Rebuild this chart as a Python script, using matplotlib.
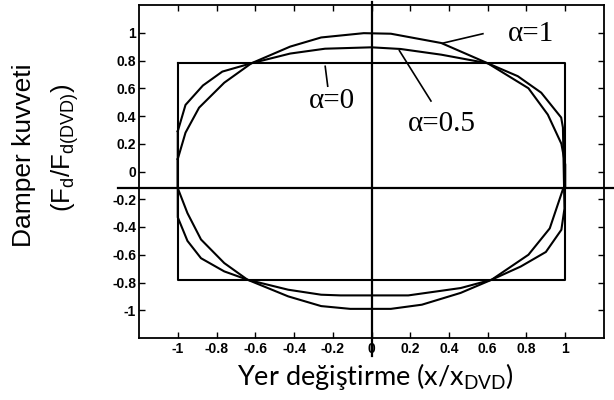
import matplotlib
matplotlib.use("Agg")
import matplotlib.pyplot as plt

# Damper force-displacement loops (normalised), alpha = 1, 0.5 and 0
# alpha = 1 loop: upper branch (left to right) then lower branch (right to left)
a1_x = [-1.0, -0.96, -0.89, -0.76, -0.62, -0.42, -0.26, -0.04, 0.10, 0.36, 0.60,
        0.81, 0.91, 0.98, 1.0, 1.0,
        0.99, 0.92, 0.81, 0.62, 0.46, 0.26, 0.10, -0.11, -0.26, -0.43, -0.64,
        -0.76, -0.88, -0.95, -1.0, -1.0]
a1_y = [0.09, 0.28, 0.46, 0.64, 0.78, 0.90, 0.966, 0.997, 0.993, 0.926, 0.78,
        0.60, 0.41, 0.20, 0.05, -0.12,
        -0.12, -0.41, -0.60, -0.78, -0.875, -0.96, -0.99, -0.99, -0.97, -0.90, -0.78,
        -0.66, -0.49, -0.30, -0.12, 0.09]

# alpha = 0.5 loop
a05_x = [-1.0, -0.96, -0.87, -0.77, -0.62, -0.42, -0.24, 0.0, 0.15, 0.36, 0.60,
         0.755, 0.876, 0.979, 0.988,
         0.996, 0.98, 0.90, 0.77, 0.62, 0.46, 0.19, -0.16, -0.26, -0.43, -0.64,
         -0.76, -0.88, -0.95, -1.0, -1.0]
a05_y = [0.29, 0.48, 0.62, 0.72, 0.78, 0.85, 0.885, 0.895, 0.883, 0.842, 0.78,
         0.687, 0.568, 0.389, 0.317,
         -0.267, -0.42, -0.58, -0.685, -0.78, -0.84, -0.893, -0.893, -0.888, -0.852, -0.78,
         -0.72, -0.625, -0.50, -0.33, 0.29]

# alpha = 0 loop (rectangle)
a0_x = [-1.0, 1.0, 1.0, -1.0, -1.0]
a0_y = [0.78, 0.78, -0.78, -0.78, 0.78]

ticks = [-1, -0.8, -0.6, -0.4, -0.2, 0, 0.2, 0.4, 0.6, 0.8, 1]
tick_labels = ["-1", "-0.8", "-0.6", "-0.4", "-0.2", "0", "0.2", "0.4", "0.6", "0.8", "1"]

# reference cross lines
h_line_y = -0.12
h_line_x = [-1.31, 1.26]
v_line_x = 0.0
v_line_y = [-1.33, 1.225]

fig = plt.figure(figsize=(6.14, 4.0), dpi=100)
ax = fig.add_axes([0.2264, 0.155, 0.7573, 0.8325])

lw = 1.5
ax.plot(a1_x, a1_y, color="black", lw=lw)
ax.plot(a05_x, a05_y, color="black", lw=lw)
ax.plot(a0_x, a0_y, color="black", lw=lw)

ax.plot(h_line_x, [h_line_y, h_line_y], color="black", lw=1.6, clip_on=False)
ax.plot([v_line_x, v_line_x], v_line_y, color="black", lw=1.6, clip_on=False, zorder=5)

ax.set_xlim(-1.2, 1.2)
ax.set_ylim(-1.2, 1.2)
ax.set_xticks(ticks)
ax.set_yticks(ticks)
tick_font = dict(family="Liberation Sans", size=10, weight="bold")
ax.set_xticklabels(tick_labels, **tick_font)
ax.set_yticklabels(tick_labels, **tick_font)
ax.tick_params(direction="in", length=4, width=1.0, top=True, right=True, pad=3)
ax.tick_params(axis="y", pad=2)
for s in ax.spines.values():
    s.set_linewidth(1.3)

# curve labels with leader lines
serif = ["Liberation Serif", "DejaVu Serif"]
ax.text(0.824, 0.988, "α=1", family=serif, fontsize=21, ha="center", va="center")
ax.plot([0.575, 0.368], [0.993, 0.925], color="black", lw=1.2)
ax.text(-0.204, 0.508, "α=0", family=serif, fontsize=21, ha="center", va="center")
ax.plot([-0.239, -0.226], [0.758, 0.615], color="black", lw=1.2)
ax.text(0.364, 0.344, "α=0.5", family=serif, fontsize=21, ha="center", va="center")
ax.plot([0.144, 0.307], [0.871, 0.508], color="black", lw=1.2)

# axis titles
fig.text(24 / 614, 1 - 155 / 400, "Damper kuvveti", family="Liberation Sans",
         fontsize=19, rotation=90, ha="center", va="center")
fig.text(65 / 614, 1 - 148 / 400, r"(F$_\mathregular{d}$/F$_\mathregular{d(DVD)}$)",
         family="Liberation Sans", fontsize=18.5, rotation=90, ha="center", va="center")
fig.text(375 / 614, 1 - 376 / 400, r"Yer değiştirme (x/x$_\mathregular{DVD}$)",
         family="Lato", fontsize=19.5, ha="center", va="center")

fig.savefig("out.png", dpi=100)
